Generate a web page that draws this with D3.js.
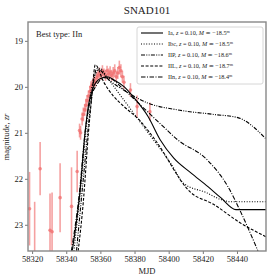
<!DOCTYPE html>
<html>
<head>
<meta charset="utf-8">
<script src="https://cdn.jsdelivr.net/npm/d3@7"></script>
<style>
  body { margin: 0; background: #fff; }
  svg text { font-family: "Liberation Serif", "DejaVu Serif", serif; fill: #222; }
</style>
</head>
<body>
<div id="figure"></div>
<script>
// observed photometry: mjd, magnitude, error
var obsMjd = [58318.5, 58321.5, 58324.7, 58330.5, 58331.7, 58336.4, 58343.1, 58346.4,
  58347.8, 58348.4, 58349.3, 58350.0, 58350.8, 58351.5, 58352.2, 58353.0, 58353.8, 58354.5,
  58355.3, 58356.1, 58357.0, 58357.8, 58358.6, 58359.5, 58360.4, 58361.2, 58362.1, 58363.0,
  58363.9, 58364.8, 58365.7, 58366.6, 58367.5, 58368.4, 58369.3, 58370.2, 58371.1, 58372.0,
  58372.9, 58373.8, 58377.6, 58381.5, 58389.0];
var obsMag = [22.65, 23.8, 21.78, 23.12, 23.15, 22.41, 22.6, 21.84,
  20.95, 21.0, 20.7, 20.6, 20.5, 20.4, 20.3, 20.2, 20.1, 20.0,
  19.95, 19.85, 19.9, 19.8, 19.75, 19.7, 19.75, 19.65, 19.7, 19.75,
  19.65, 19.72, 19.68, 19.75, 19.7, 19.65, 19.78, 19.7, 19.58, 19.65,
  19.78, 19.9, 20.07, 20.43, 20.54];
var obsErr = [0.8, 1.3, 0.58, 0.8, 0.85, 0.75, 0.85, 0.45,
  0.15, 0.15, 0.14, 0.15, 0.13, 0.14, 0.12, 0.12, 0.12, 0.12,
  0.1, 0.12, 0.1, 0.12, 0.11, 0.12, 0.1, 0.12, 0.1, 0.12,
  0.11, 0.12, 0.13, 0.12, 0.13, 0.14, 0.12, 0.13, 0.15, 0.14,
  0.13, 0.14, 0.15, 0.24, 0.2];

// model light curves
var iaMjd  = [58343.5, 58348, 58351, 58353, 58356, 58360, 58364, 58368, 58374, 58380, 58388, 58395, 58403, 58413, 58423, 58430.5, 58439.4, 58457];
var iaMag  = [23.57, 22.3, 21.0, 20.4, 20.0, 19.82, 19.78, 19.85, 20.0, 20.25, 20.65, 21.15, 21.55, 21.87, 22.17, 22.41, 22.67, 22.67];
var ibcMjd = [58344.5, 58349, 58352, 58355, 58359.8, 58364, 58373, 58383, 58391, 58401, 58408.8, 58422, 58430.5, 58436.4, 58457];
var ibcMag = [23.57, 22.0, 20.8, 20.0, 19.6, 19.8, 20.25, 20.75, 21.15, 21.65, 22.1, 22.3, 22.45, 22.5, 22.5];
var iipMjd = [58346, 58350, 58354, 58358, 58365, 58375, 58387.6, 58405, 58426.4, 58440.5, 58457.5];
var iipMag = [23.57, 22.0, 20.5, 19.6, 19.85, 20.1, 20.35, 20.5, 20.6, 20.67, 21.15];
var iilMjd = [58347, 58350, 58353, 58355, 58357, 58362, 58367.6, 58373, 58383.5, 58392, 58413, 58426, 58442, 58457];
var iilMag = [23.57, 22.5, 21.0, 20.2, 19.52, 19.9, 20.2, 20.4, 20.75, 21.15, 22.3, 22.55, 22.96, 23.26];
var iinMjd = [58343, 58348, 58351, 58354, 58358, 58362, 58366, 58372, 58385, 58395, 58405.2, 58422.9, 58434.7, 58442.3, 58452.3];
var iinMag = [23.57, 22.2, 21.0, 20.3, 19.95, 19.8, 19.82, 20.0, 20.45, 20.8, 21.15, 21.6, 22.17, 22.73, 23.57];

var typeNames = ["Ia", "Ibc", "IIP", "IIL", "IIn"];
var typeAbsMag = ["\u221218.5", "\u221218.5", "\u221218.6", "\u221218.7", "\u221218.4"];
var typeDash = ["none", "1,1.6", "4,1.3,1,1.3,1,1.3", "3,1.6", "4.5,1.5,1,1.5"];

var xTicks = [58320, 58340, 58360, 58380, 58400, 58420, 58440];
var yTicks = [19, 20, 21, 22, 23];

var W = 280, H = 280;
var plot = {left: 28, right: 266, top: 22, bottom: 251};
var serif = "'Liberation Serif', 'DejaVu Serif', serif";

var svg = d3.select("#figure").append("svg")
  .attr("width", W).attr("height", H)
  .attr("font-family", serif);

var x = d3.scaleLinear().domain([58317.6, 58457]).range([plot.left, plot.right]);
var y = d3.scaleLinear().domain([18.59, 23.57]).range([plot.top, plot.bottom]);

svg.append("defs").append("clipPath").attr("id", "clip")
  .append("rect")
  .attr("x", plot.left).attr("y", plot.top)
  .attr("width", plot.right - plot.left).attr("height", plot.bottom - plot.top);

// title
svg.append("text").attr("x", 147).attr("y", 14)
  .attr("text-anchor", "middle").style("font-size", "11px").text("SNAD101");

// axes
var xAxis = d3.axisBottom(x).tickValues(xTicks).tickSize(3).tickPadding(2)
  .tickFormat(d3.format("d"));
var yAxis = d3.axisLeft(y).tickValues(yTicks).tickSize(3).tickPadding(2)
  .tickFormat(d3.format("d"));

var gx = svg.append("g").attr("transform", "translate(0," + plot.bottom + ")").call(xAxis);
var gy = svg.append("g").attr("transform", "translate(" + plot.left + ",0)").call(yAxis);
[gx, gy].forEach(function(g) {
  g.attr("font-family", serif);
  g.select(".domain").remove();
  g.selectAll("line").attr("stroke", "#555").attr("stroke-width", 0.8);
  g.selectAll("text").style("font-size", "8.5px").attr("fill", "#222");
});

var data = svg.append("g").attr("clip-path", "url(#clip)");

// error bars
var obs = obsMjd.map(function(d, i) { return {mjd: d, mag: obsMag[i], err: obsErr[i]}; });
data.selectAll("line.err").data(obs).enter().append("line")
  .attr("class", "err")
  .attr("x1", function(d) { return x(d.mjd); })
  .attr("x2", function(d) { return x(d.mjd); })
  .attr("y1", function(d) { return y(d.mag - d.err); })
  .attr("y2", function(d) { return y(d.mag + d.err); })
  .attr("stroke", "rgba(240,110,110,0.65)")
  .attr("stroke-width", 1.6);
data.selectAll("circle").data(obs).enter().append("circle")
  .attr("cx", function(d) { return x(d.mjd); })
  .attr("cy", function(d) { return y(d.mag); })
  .attr("r", 1.8)
  .attr("fill", "rgba(240,110,110,0.75)");

// model curves
var models = [
  {mjd: iaMjd, mag: iaMag},
  {mjd: ibcMjd, mag: ibcMag},
  {mjd: iipMjd, mag: iipMag},
  {mjd: iilMjd, mag: iilMag},
  {mjd: iinMjd, mag: iinMag}
];
var line = d3.line()
  .x(function(d) { return x(d[0]); })
  .y(function(d) { return y(d[1]); })
  .curve(d3.curveMonotoneX);

models.forEach(function(m, i) {
  data.append("path")
    .datum(m.mjd.map(function(d, j) { return [d, m.mag[j]]; }))
    .attr("d", line)
    .attr("fill", "none")
    .attr("stroke", "#000")
    .attr("stroke-width", 1.1)
    .attr("stroke-dasharray", typeDash[i]);
});

// frame
svg.append("rect")
  .attr("x", plot.left).attr("y", plot.top)
  .attr("width", plot.right - plot.left).attr("height", plot.bottom - plot.top)
  .attr("fill", "none").attr("stroke", "#888").attr("stroke-width", 1.4);

// best type label
svg.append("text").attr("x", 36).attr("y", 37)
  .style("font-size", "8.5px").text("Best type: IIn");

// legend
var leg = svg.append("g");
leg.append("rect").attr("x", 137).attr("y", 27).attr("width", 126).attr("height", 57)
  .attr("rx", 2).attr("fill", "#fff").attr("fill-opacity", 0.85)
  .attr("stroke", "#ccc").attr("stroke-width", 0.8);

typeNames.forEach(function(name, i) {
  var ly = 33 + i * 11;
  leg.append("line").attr("x1", 141).attr("x2", 163).attr("y1", ly).attr("y2", ly)
    .attr("stroke", "#000").attr("stroke-width", 1.1)
    .attr("stroke-dasharray", typeDash[i]);
  var t = leg.append("text").attr("x", 168).attr("y", ly + 2.2).style("font-size", "6.2px");
  t.append("tspan").text(name + ", ");
  t.append("tspan").style("font-style", "italic").text("z");
  t.append("tspan").text(" = 0.10, ");
  t.append("tspan").style("font-style", "italic").text("M");
  t.append("tspan").text(" \u2243 " + typeAbsMag[i]);
  t.append("tspan").attr("dy", -2.5).style("font-size", "4.2px").text("m");
});

// axis labels
svg.append("text").attr("x", 147).attr("y", 274)
  .attr("text-anchor", "middle").style("font-size", "8.5px").text("MJD");
var yl = svg.append("text")
  .attr("transform", "translate(9,137) rotate(-90)")
  .attr("text-anchor", "middle").style("font-size", "8.5px");
yl.append("tspan").text("magnitude, ");
yl.append("tspan").style("font-style", "italic").text("zr");
</script>
</body>
</html>
